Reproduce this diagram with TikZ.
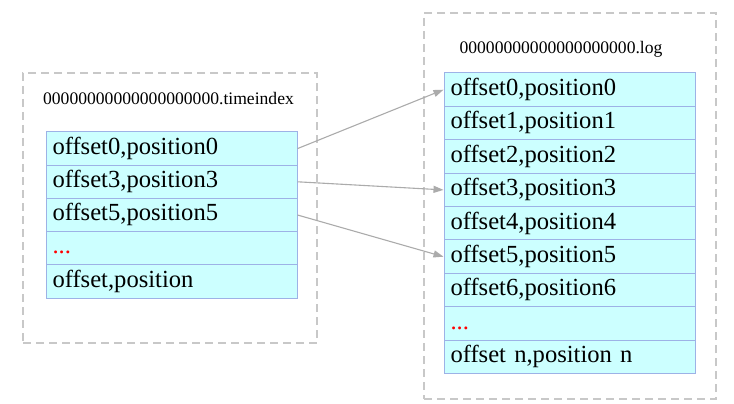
\documentclass[tikz,border=0pt]{standalone}
\usepackage{fontspec}
\setmainfont{Liberation Serif}
\usetikzlibrary{arrows.meta}
\definecolor{rowfill}{HTML}{CCFFFF}
\definecolor{rowline}{HTML}{9DB2E6}
\definecolor{boxline}{HTML}{C8C8C8}
\definecolor{arrowgray}{HTML}{ABABAB}
\tikzset{
  entry/.style={draw=rowline, line width=1pt, fill=rowfill, minimum width=251pt, minimum height=33.5pt,
    text width=238pt, inner xsep=6.5pt, align=left, text height=16.5pt, text depth=5pt,
    font=\fontsize{24.6}{27}\selectfont},
  segbox/.style={draw=boxline, line width=1.3pt, dash pattern=on 8pt off 5pt},
  fname/.style={anchor=base, font=\fontsize{17.6}{20}\selectfont},
  link/.style={draw=arrowgray, line width=1.1pt, -{Triangle[length=10pt,width=7pt]}}
}
\begin{document}
\begin{tikzpicture}[x=1pt,y=-1pt]
\useasboundingbox (0,0) rectangle (734,404);
\node[segbox, minimum width=294pt, minimum height=270pt] (idxbox) at (170,208){};
\node[segbox, minimum width=292pt, minimum height=386pt] (logbox) at (570,206){};
\node[fname] (idxname) at (168.5,104){00000000000000000000.timeindex};
\node[fname] (logname) at (561,54){00000000000000000000.log};
\node[entry] (idx0) at (171.5,148.6){offset0,position0};
\node[entry] (idx1) at (171.5,181.8){offset3,position3};
\node[entry] (idx2) at (171.5,215.0){offset5,position5};
\node[entry] (idx3) at (171.5,248.2){\textcolor{red}{...}};
\node[entry] (idx4) at (171.5,281.4){offset,position};
\node[entry] (log0) at (569.5,89.7){offset0,position0};
\node[entry] (log1) at (569.5,123.1){offset1,position1};
\node[entry] (log2) at (569.5,156.5){offset2,position2};
\node[entry] (log3) at (569.5,189.9){offset3,position3};
\node[entry] (log4) at (569.5,223.3){offset4,position4};
\node[entry] (log5) at (569.5,256.7){offset5,position5};
\node[entry] (log6) at (569.5,290.1){offset6,position6};
\node[entry] (log7) at (569.5,323.5){\textcolor{red}{...}};
\node[entry] (log8) at (569.5,356.9){offset n,position n};
\draw[link](idx0.east) -- (log0.west);
\draw[link](idx1.east) -- (log3.west);
\draw[link](idx2.east) -- (log5.west);
\end{tikzpicture}
\end{document}
